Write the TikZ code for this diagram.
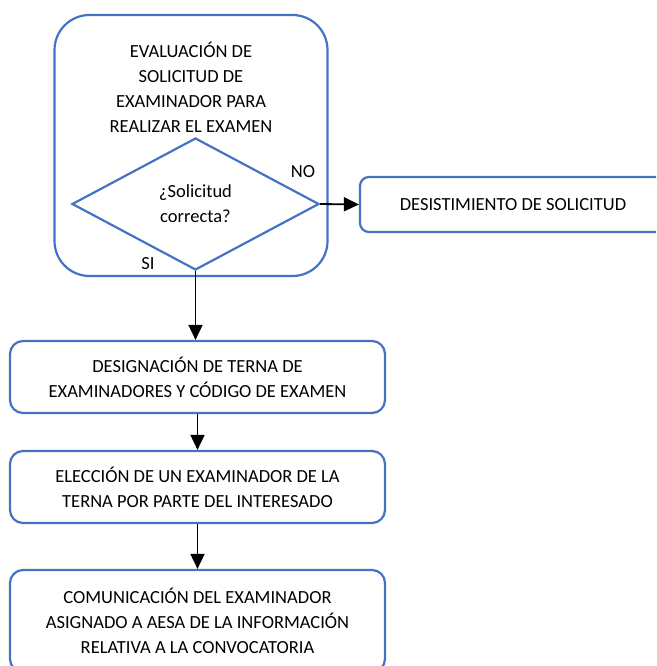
\documentclass[tikz,border=0pt]{standalone}
\usepackage{fontspec}
\setmainfont{Carlito}
\usetikzlibrary{arrows.meta,shapes.geometric}
\definecolor{boxblue}{HTML}{4472C4}
\newcommand{\boxfont}{\fontsize{18.5}{25}\selectfont}
\tikzstyle{mybox} = [draw=boxblue, line width=2.2pt, rectangle, rounded corners=13pt, align=center, font=\boxfont, minimum width=375pt, inner sep=0pt]
\tikzstyle{mydecision} = [draw=boxblue, line width=2.2pt, diamond, align=center, font=\boxfont, minimum width=247pt, minimum height=132pt, inner sep=0pt]
\tikzstyle{mylabel} = [font=\boxfont, align=center, inner sep=0pt]
\tikzstyle{myarrow} = [line width=1.8pt, -{Triangle[length=15pt,width=14pt]}]

\begin{document}
\begin{tikzpicture}[x=1pt,y=-1pt]
\useasboundingbox (0,0) rectangle (656,666);
\clip (0,0) rectangle (656,666);
% evaluation block with decision inside
\node [mybox, rounded corners=35pt, minimum width=273pt, minimum height=261pt] (eval) at (191,145.5) {};
\node [mylabel] (evaltitle) at (191,87.5) {EVALUACIÓN DE\\SOLICITUD DE\\EXAMINADOR PARA\\REALIZAR EL EXAMEN};
\node [mydecision] (decision) at (195.5,204) {¿Solicitud\\correcta?};
\node [mylabel] (no) at (303,172) {NO};
\node [mylabel] (si) at (148,264) {SI};
\node [mybox, rounded corners=9pt, minimum width=306pt, minimum height=55pt] (desist) at (513,204.5) {DESISTIMIENTO DE SOLICITUD};
% main steps
\node [mybox, minimum height=72pt] (design) at (197.5,377) {DESIGNACIÓN DE TERNA DE\\EXAMINADORES Y CÓDIGO DE EXAMEN};
\node [mybox, minimum height=72pt] (elect) at (197.5,487) {ELECCIÓN DE UN EXAMINADOR DE LA\\TERNA POR PARTE DEL INTERESADO};
\node [mybox, minimum height=102pt] (comun) at (197.5,621) {COMUNICACIÓN DEL EXAMINADOR\\ASIGNADO A AESA DE LA INFORMACIÓN\\RELATIVA A LA CONVOCATORIA};
% arrows
\draw [myarrow] (decision.east) -- (desist.west);
\draw [myarrow] (decision.south) -- (decision.south |- design.north);
\draw [myarrow] (design) -- (elect);
\draw [myarrow] (elect) -- (comun);
\end{tikzpicture}
\end{document}
